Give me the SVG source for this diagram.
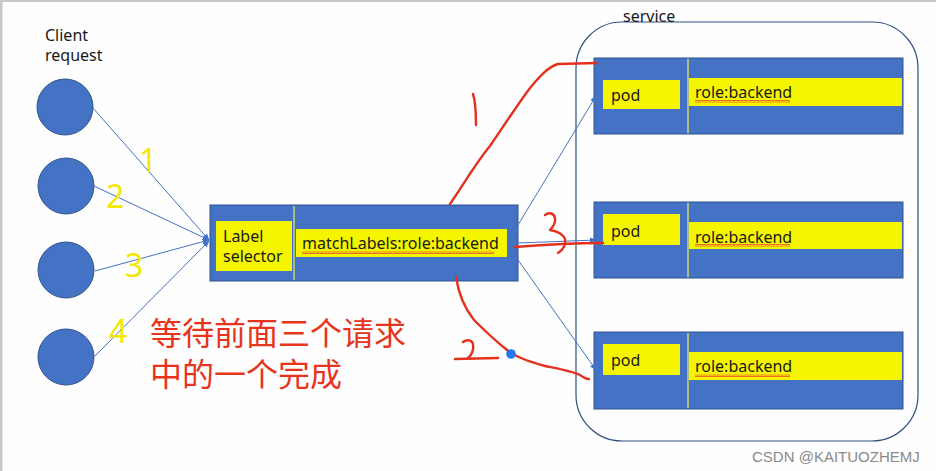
<svg xmlns="http://www.w3.org/2000/svg" width="936" height="471" viewBox="0 0 936 471">
<defs>
<style>
.box{fill:#4472c4;stroke:#2f528f;stroke-width:1}
.yel{fill:#f5f500}
.div{stroke:#c9d66a;stroke-width:1.5}
.t{font-family:"Noto Sans","Open Sans","Liberation Sans",sans-serif;font-size:16px;fill:#1a1a1a}
.num{font-family:"Noto Sans","Liberation Sans",sans-serif;font-size:32px;fill:#f5e800}
.cn{font-family:"Noto Sans CJK SC","Noto Sans",sans-serif;font-size:32px;fill:#e8341c}
.conn{stroke:#4472c4;stroke-width:1;fill:none}
.red{stroke:#e3311d;stroke-width:2.4;fill:none;stroke-linecap:round;stroke-linejoin:round}
.wm{font-family:"Liberation Sans",Arial,sans-serif;font-size:15px;fill:#8a8a8a}
</style>
<marker id="ah" viewBox="0 0 10 10" refX="9" refY="5" markerWidth="7" markerHeight="7" orient="auto" markerUnits="userSpaceOnUse">
<path d="M0,1 L10,5 L0,9 Z" fill="#4472c4"/>
</marker>
<pattern id="wavy" width="4" height="3" patternUnits="userSpaceOnUse">
<polyline points="0,2.5 1,0.5 2,2.5 3,0.5 4,2.5" fill="none" stroke="#e33" stroke-width="0.7"/>
</pattern>
</defs>
<rect x="0" y="0" width="936" height="471" fill="#fdfefd"/>
<rect x="0" y="0" width="936" height="2" fill="#c8c8c8"/>
<rect x="0" y="0" width="2.5" height="471" fill="#c8c8c8"/>

<g id="service">
<rect x="576" y="22" width="342" height="419" rx="46" ry="46" fill="none" stroke="#2f4f80" stroke-width="1.2"/>
<text class="t" x="623" y="22" font-size="15">service</text>
</g>

<g id="client-label">
<text class="t" x="45" y="41" font-size="15">Client</text>
<text class="t" x="45" y="61" font-size="15">request</text>
</g>

<g id="client1"><circle cx="65" cy="107" r="28" class="box"/></g>
<g id="client2"><circle cx="66" cy="186" r="28" class="box"/></g>
<g id="client3"><circle cx="66" cy="270" r="28" class="box"/></g>
<g id="client4"><circle cx="66" cy="357" r="28" class="box"/></g>

<g id="selector">
<rect x="210" y="205" width="308" height="76" class="box"/>
<line x1="294" y1="206" x2="294" y2="280" class="div"/>
<rect x="216" y="221" width="76" height="50" class="yel"/>
<text class="t" x="223" y="242">Label</text>
<text class="t" x="223" y="262">selector</text>
<rect x="296" y="229" width="211" height="28" class="yel"/>
<text class="t" x="302" y="249">matchLabels:role:backend</text>
<rect x="302" y="251" width="192" height="3" fill="url(#wavy)"/>
</g>

<g id="pod1">
<rect x="594" y="58" width="309" height="76" class="box"/>
<line x1="688" y1="59" x2="688" y2="133" class="div"/>
<rect x="603" y="80" width="77" height="29" class="yel"/>
<text class="t" x="611" y="101">pod</text>
<rect x="689" y="78" width="213" height="28" class="yel"/>
<text class="t" x="695" y="98">role:backend</text>
<rect x="695" y="100" width="95" height="3" fill="url(#wavy)"/>
</g>

<g id="pod2">
<rect x="594" y="202" width="309" height="76" class="box"/>
<line x1="688" y1="203" x2="688" y2="277" class="div"/>
<rect x="603" y="214" width="77" height="31" class="yel"/>
<text class="t" x="611" y="237">pod</text>
<rect x="689" y="222" width="213" height="27" class="yel"/>
<text class="t" x="695" y="243">role:backend</text>
<rect x="695" y="244" width="95" height="3" fill="url(#wavy)"/>
</g>

<g id="pod3">
<rect x="594" y="332" width="309" height="77" class="box"/>
<line x1="688" y1="333" x2="688" y2="408" class="div"/>
<rect x="603" y="344" width="77" height="31" class="yel"/>
<text class="t" x="611" y="366">pod</text>
<rect x="689" y="352" width="213" height="28" class="yel"/>
<text class="t" x="695" y="372">role:backend</text>
<rect x="695" y="374" width="95" height="3" fill="url(#wavy)"/>
</g>

<g id="connectors">
<line x1="93" y1="108" x2="209" y2="240" class="conn" marker-end="url(#ah)"/>
<line x1="94" y1="186" x2="209" y2="240" class="conn" marker-end="url(#ah)"/>
<line x1="95" y1="271" x2="209" y2="240" class="conn" marker-end="url(#ah)"/>
<line x1="95" y1="356" x2="209" y2="241" class="conn" marker-end="url(#ah)"/>
<line x1="518" y1="225" x2="596" y2="96" class="conn" marker-end="url(#ah)"/>
<line x1="518" y1="243" x2="596" y2="240" class="conn" marker-end="url(#ah)"/>
<line x1="518" y1="260" x2="596" y2="370" class="conn" marker-end="url(#ah)"/>
</g>

<g id="numbers">
<text class="num" x="139" y="172">1</text>
<text class="num" x="106" y="208">2</text>
<text class="num" x="125" y="277">3</text>
<text class="num" x="109" y="343">4</text>
</g>

<g id="annotation">
<text class="cn" x="150" y="345">等待前面三个请求</text>
<text class="cn" x="150" y="386">中的一个完成</text>
</g>

<g id="handwriting">
<path class="red" d="M450,204 C465,182 478,160 490,146 C505,124 518,104 530,88 C540,76 548,67 558,64 L597,63"/>
<path class="red" d="M473,94 C475,100 476,112 476,125"/>
<path class="red" d="M515,247 C540,245 570,243 603,243"/>
<path class="red" d="M545,215 C549,212 554,213 555,218 C556,224 552,228 550,230 C556,231 563,234 565,239 C566,245 563,250 558,253"/>
<path class="red" d="M456,277 C458,290 462,305 474,320 C486,332 497,342 507,350 C515,357 530,362 545,366 C560,369 572,371 580,375 C584,378 587,379 589,379"/>
<path class="red" d="M463,342 C467,339 472,340 473,344 C474,349 472,355 468,358 M455,359 L498,358"/>
<circle cx="511" cy="354" r="4.8" fill="#1f78ee"/>
</g>

<text class="wm" x="752" y="462">CSDN @KAITUOZHEMJ</text>
</svg>
